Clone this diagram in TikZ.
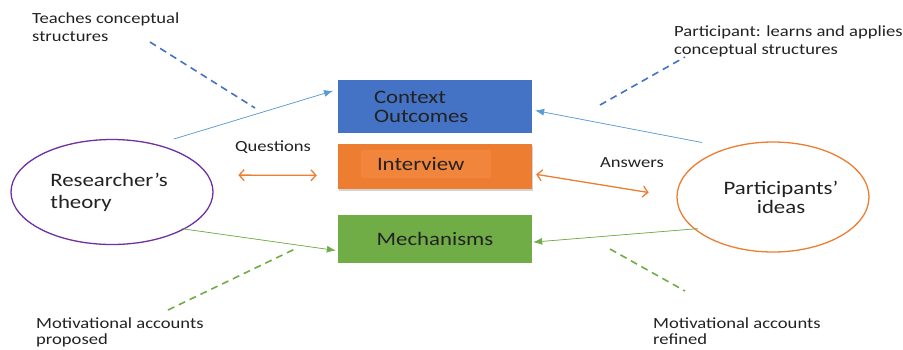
\documentclass[tikz,border=0pt]{standalone}
\usepackage{fontspec}
\setmainfont{Carlito}
\newfontfamily\lblfont[FakeStretch=1.2]{Carlito}
\usepackage{xcolor}
\usetikzlibrary{positioning,shapes.geometric,arrows.meta,shadows}

\definecolor{blue-a}{HTML}{4472C4}
\definecolor{blue-b}{HTML}{5B9BD5}
\definecolor{orange-a}{HTML}{ED7D31}
\definecolor{orange-b}{HTML}{F0853B}
\definecolor{green-a}{HTML}{70AD47}
\definecolor{purple-a}{HTML}{7030A0}
\definecolor{ink}{HTML}{222222}

\begin{document}
\begin{tikzpicture}
[
x=1pt, y=-1pt,
box-a/.style={rectangle, minimum width=194pt, inner sep=0pt},
circ-a/.style={ellipse, line width=1.3pt, inner sep=0pt},
text-a/.style={font=\lblfont\fontsize{15.5}{17.5}\selectfont, text=ink, inner sep=0pt, align=left},
text-b/.style={font=\lblfont\fontsize{19}{21}\selectfont, text=ink, inner sep=0pt},
arr-a/.style={-{Latex[length=9pt,width=7pt]}, line width=0.7pt},
arr-b/.style={{Straight Barb[length=5pt,width=11pt]}-{Straight Barb[length=5pt,width=11pt]}, line width=1.3pt, draw=orange-a},
dash-a/.style={dash pattern=on 7pt off 5pt, line width=1.6pt}
]
\useasboundingbox (0,0) rectangle (903,349);

% boxes
\node (box-c)    [box-a, fill=blue-a, minimum height=53pt] at (435,106.5) {};
\node (box-i)    [box-a, fill=orange-a, minimum height=45pt, drop shadow={opacity=0.35, shadow xshift=1pt, shadow yshift=-2pt},
                  below = 11pt of box-c] {};
\node (box-m)    [box-a, fill=green-a, minimum height=48pt, below = 25pt of box-i, text-b] {Mechanisms};
\node (txt-c)    [text-b, align=left, right = 36pt of box-c.west] {Context\\[-2pt]Outcomes};
\node (txt-i)    [text-b, fill=orange-b, minimum height=28pt, text width=98pt, inner xsep=16pt, align=left,
                  right = 23pt of box-i.west, yshift=2.5pt] {Interview};

% ellipses
\node (res)      [circ-a, draw=purple-a, minimum width=202pt, minimum height=105pt, text-b, align=left] at (112,192) {\hspace{-6pt}Researcher’s\\[1pt]\hspace{-6pt}theory};
\node (part)     [circ-a, draw=orange-a, minimum width=192pt, minimum height=110pt, text-b, align=center] at (773,197) {\hspace{16pt}Participants’\\[-2pt]\hspace{16pt}ideas};

% labels
\node (lbl-teach) [text-a, anchor=north west] at (32,13) {Teaches conceptual\\structures};
\node (lbl-learn) [text-a, anchor=north west] at (674,26) {Participant: learns and applies\\conceptual structures};
\node (lbl-q)     [text-a, anchor=north west] at (235,141) {Questions};
\node (lbl-a)     [text-a, anchor=north west] at (600,157) {Answers};
\node (lbl-prop)  [text-a, anchor=north west] at (36,318) {Motivational accounts\\[-2pt]proposed};
\node (lbl-ref)   [text-a, anchor=north west] at (653,318) {Motivational accounts\\[-2pt]refined};

% dashed pointers
\coordinate (dash-1-a) at (150,42);
\coordinate (dash-1-b) at (255,108);
\coordinate (dash-2-a) at (600,105);
\coordinate (dash-2-b) at (685,57);
\coordinate (dash-3-a) at (168,310);
\coordinate (dash-3-b) at (297,248);
\coordinate (dash-4-a) at (610,249);
\coordinate (dash-4-b) at (685,291);
\draw [dash-a, draw=blue-a]  (dash-1-a) -- (dash-1-b);
\draw [dash-a, draw=blue-a]  (dash-2-a) -- (dash-2-b);
\draw [dash-a, draw=green-a] (dash-3-a) -- (dash-3-b);
\draw [dash-a, draw=green-a] (dash-4-a) -- (dash-4-b);

% arrows
\draw [arr-a, draw=blue-b, fill=blue-b, shorten <=18pt, shorten >=5pt] (res.47)   -- (box-c.170);
\draw [arr-a, draw=blue-b, fill=blue-b, shorten <=27pt, shorten >=3pt] (part.132) -- (box-c.-2);
\draw [arr-b, shorten <=30pt, shorten >=21pt] (res.10)   -- (box-i.185);
\draw [arr-b, shorten <=4pt,  shorten >=28pt] (box-i.-4) -- (part.west);
\draw [arr-a, draw=green-a, fill=green-a, shorten <=-3pt, shorten >=2pt] (res.-27)  -- (box-m.187);
\draw [arr-a, draw=green-a, fill=green-a, shorten <=-4pt, shorten >=1pt] (part.202) -- (box-m.-2);
\end{tikzpicture}
\end{document}
